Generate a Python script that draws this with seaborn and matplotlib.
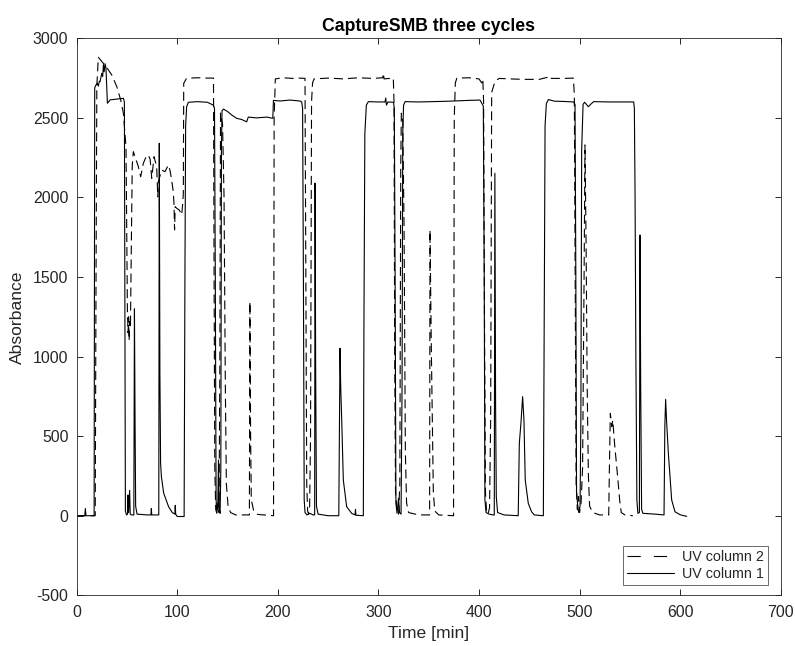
import matplotlib
matplotlib.use("Agg")
import matplotlib.pyplot as plt
from matplotlib.lines import Line2D
import pandas as pd
import seaborn as sns

# UV trace at the outlet of column 1 (time in min, absorbance)
time_col1 = [0, 8.0, 8.6, 9.2, 17.3, 17.9, 19, 20.4, 21.5, 22.5, 23.2, 24.9, 25.8, 26.6, 27.3,
             28.2, 29.1, 30.5, 33.2, 40, 46.4, 47.4, 48.0, 48.4, 49.5, 50.5, 51.0, 51.6, 52.6,
             53.2, 54.5, 56.8, 57.4, 58.0, 58.6, 60, 70, 73.8, 74.2, 74.6, 81.6, 82.1, 82.7,
             83.4, 84.2, 86.5, 91.4, 95, 97.6, 98.0, 98.4, 100, 106.8, 107.6, 108.3, 109.3,
             111, 120, 130, 135.8, 137, 137.8, 138.6, 139.3, 140.3, 141, 141.6, 142.6, 143.3,
             143.9, 144.5, 146, 150, 154.1, 159.1, 164, 169, 170.6, 179, 189, 195, 195.6, 202,
             212, 222, 223.7, 224.6, 225.4, 226.2, 227, 229, 232, 235, 236.6, 237.0, 237.6,
             238.4, 240, 250, 260.6, 261.8, 262.5, 263.5, 265.1, 268.4, 273.4, 276.7, 277.2,
             277.6, 285, 285.6, 286.5, 288, 290, 300, 306.5, 307.3, 308, 309.5, 315, 315.8,
             316.6, 317.4, 318.5, 320, 321, 322.5, 323.5, 324.2, 325, 326.5, 340, 360, 375,
             390, 401, 403, 404.3, 405.2, 405.9, 407, 410, 414, 415.2, 415.8, 416.5, 417.2,
             418.5, 425, 439, 440.1, 441.7, 443.4, 444.7, 446, 449, 452.3, 455, 464, 464.8,
             465.7, 467, 469, 475, 485, 494, 495.5, 496.3, 497, 498.5, 499.3, 500.5, 501.3,
             502.1, 503.5, 505, 508.8, 511, 514, 530, 545, 553.8, 554.5, 555.2, 556, 557, 558,
             559.5, 560.1, 560.8, 561.7, 563, 575, 584, 584.8, 585.6, 586.5, 588.3, 591.6,
             594.9, 600, 606.5]
uv_col1 = [0, 0, 45, 0, 0, 2690, 2705, 2718, 2700, 2730, 2728, 2780, 2760, 2835, 2790,
           2840, 2812, 2592, 2613, 2618, 2623, 2600, 1200, 30, 5, 10, 130, 20, 160,
           10, 5, 5, 1300, 600, 60, 10, 5, 5, 45, 5, 5, 2341, 900,
           330, 245, 141, 56, 20, 10, 65, 10, -5, -5, 1500, 2450, 2570,
           2598, 2602, 2598, 2580, 2560, 1500, 100, 20, 60, 350, 40, 15, 300,
           2300, 2545, 2555, 2540, 2518, 2497, 2490, 2475, 2505, 2500, 2505, 2497, 2610, 2606,
           2612, 2606, 2600, 2560, 1500, 100, 20, 5, 15, 5, 5, 2090, 900,
           60, 10, 0, 0, 1052, 811, 601, 224, 57, 15, 5, 40,
           3, 0, 1200, 2400, 2580, 2602, 2600, 2600, 2625, 2580, 2600, 2598, 2560,
           1500, 80, 15, 110, 20, 10, 800, 2400, 2580, 2602, 2600, 2603, 2606,
           2610, 2612, 2590, 2575, 1500, 100, 20, 10, 5, 5, 2152, 700, 120,
           20, 5, 0, 455, 580, 748, 602, 224, 78, 25, 5, 0, 1200,
           2450, 2590, 2615, 2605, 2603, 2600, 2585, 1500, 150, 40, 20, 60, 600,
           2300, 2585, 2598, 2570, 2585, 2602, 2600, 2600, 2600, 2560, 2000, 1000, 100, 15,
           20, 1764, 800, 40, 15, 10, 5, 560, 731, 600, 392, 99,
           25, 6, -4]

# UV trace at the outlet of column 2 (time in min, absorbance)
time_col2 = [0, 18.4, 19.2, 20.0, 21.5, 23.2, 26.5, 30, 34.8, 39.8, 43.7, 46.4, 48, 49, 49.6,
             50.4, 51, 51.6, 52.1, 52.7, 53.4, 54.3, 55.2, 56.3, 58, 61.3, 63.6, 66.2, 69,
             71.2, 73, 74.6, 76.9, 79.5, 80.6, 81.2, 84.5, 87.8, 91.1, 92.7, 94.4, 96, 96.7,
             97.3, 97.9, 99.4, 102, 104.4, 105.4, 106, 106.4, 109.3, 120, 130, 136, 136.6,
             137.3, 138.2, 139.5, 140.5, 141.5, 142.3, 143, 145, 146.5, 147.8, 148.8, 150.5,
             153, 158, 171.7, 172.2, 172.9, 173.6, 176, 180, 195.7, 196.3, 197.5, 205, 215,
             222, 227, 227.8, 228.7, 229.6, 230.6, 231.6, 232.5, 233.5, 234.5, 236, 250, 265,
             280, 295, 304.3, 304.9, 305.6, 314.8, 315.5, 316.2, 317, 318.5, 320, 321.3,
             322.2, 322.8, 324.2, 325.5, 326.8, 328, 330, 340, 350.9, 351.3, 352.5, 354.6,
             356, 360, 374.7, 375.4, 376.5, 378, 390, 400, 402.7, 403.8, 404.6, 405.5, 406.4,
             407.5, 409, 410.5, 411.6, 412.6, 416, 420, 430, 445, 460, 468, 470, 472, 485,
             493.8, 494.8, 495.8, 496.6, 497.8, 499, 500, 501.5, 503, 504.5, 505.4, 506.5,
             507.6, 508.8, 510, 513, 520, 529, 529.8, 530.6, 531.4, 532, 533, 535, 537.5,
             540, 541.5, 545, 553]
uv_col2 = [0, 0, 1500, 2700, 2881, 2868, 2843, 2815, 2770, 2697, 2613, 2529, 2403, 2319, 1900,
           1300, 1150, 1250, 1100, 1220, 1180, 1700, 2200, 2288, 2256, 2193, 2130, 2214, 2256,
           2267, 2240, 2120, 2256, 2193, 2004, 2100, 2172, 2162, 2204, 2172, 2110, 2036, 1963,
           1796, 1942, 1932, 1921, 1890, 1963, 2025, 2717, 2749, 2752, 2750, 2750, 1500,
           300, 40, 10, 80, 20, 900, 2530, 2460, 2000, 800, 200, 60,
           20, 5, 5, 1345, 500, 100, 30, 8, 0, 2500, 2745, 2752, 2748,
           2750, 2748, 1500, 200, 30, 10, 60, 500, 2600, 2720, 2745, 2750, 2745,
           2752, 2748, 2752, 2781, 2745, 2750, 2600, 1000, 150, 20, 10, 200,
           2200, 2529, 2480, 1800, 400, 80, 20, 5, 5, 1796, 1100, 150,
           30, 5, 0, 2500, 2720, 2750, 2752, 2745, 2720, 2745, 2600, 1200, 150,
           30, 10, 50, 600, 2660, 2730, 2748, 2745, 2742, 2742, 2755, 2764, 2748, 2748,
           2750, 2650, 1200, 200, 40, 120, 20, 80, 300, 1500, 2330, 1700,
           800, 250, 60, 20, 5, 5, 350, 643, 600, 560, 600, 440, 270,
           90, 20, 5, 0]

series_labels = ["UV column 2", "UV column 1"]
x_ticks = [0, 100, 200, 300, 400, 500, 600, 700]
y_ticks = [-500, 0, 500, 1000, 1500, 2000, 2500, 3000]

axis_grey = "#262626"
dash_plot = (6.5, 3.6)
dash_legend = (9.5, 9.5)

sns.set_theme(style="ticks")
plt.rcParams.update({
    "font.family": ["Liberation Sans", "DejaVu Sans"],
    "lines.scale_dashes": False,
    "axes.unicode_minus": False,
    "xtick.direction": "in",
    "ytick.direction": "in",
    "xtick.top": True,
    "xtick.bottom": True,
    "ytick.left": True,
    "ytick.right": True,
    "xtick.major.size": 4.5,
    "ytick.major.size": 4.5,
    "xtick.major.width": 0.7,
    "ytick.major.width": 0.7,
    "xtick.color": axis_grey,
    "ytick.color": axis_grey,
    "xtick.major.pad": 7,
    "ytick.major.pad": 6,
})

df_col1 = pd.DataFrame({"Time [min]": time_col1, "Absorbance": uv_col1})
df_col2 = pd.DataFrame({"Time [min]": time_col2, "Absorbance": uv_col2})

fig = plt.figure(figsize=(7.95, 6.46), dpi=100)
ax = fig.add_axes([0.0965, 0.0785, 0.8855, 0.8622])

sns.lineplot(data=df_col2, x="Time [min]", y="Absorbance", ax=ax, color="black",
             linewidth=0.8, estimator=None, sort=False)
ax.lines[-1].set_dashes(dash_plot)
sns.lineplot(data=df_col1, x="Time [min]", y="Absorbance", ax=ax, color="black",
             linewidth=0.8, estimator=None, sort=False)

ax.set_xlim(0, 700)
ax.set_ylim(-500, 3000)
ax.set_xticks(x_ticks)
ax.set_yticks(y_ticks)
ax.tick_params(which="major", direction="in", length=4.5, width=0.7, bottom=True,
               left=True, top=True, right=True, colors=axis_grey, labelsize=11.4)
for spine in ax.spines.values():
    spine.set_visible(True)
    spine.set_color(axis_grey)
    spine.set_linewidth(0.6)

ax.set_xlabel("Time [min]", fontsize=12.6, color=axis_grey, labelpad=4)
ax.set_ylabel("Absorbance", fontsize=12.6, color=axis_grey, labelpad=6)
ax.set_title("CaptureSMB three cycles", fontsize=12.7, fontweight="bold", pad=5,
             color="black")

handles = [Line2D([], [], color="black", linewidth=0.8, dashes=dash_legend),
           Line2D([], [], color="black", linewidth=0.8)]
leg = ax.legend(handles, series_labels, loc="lower right", bbox_to_anchor=(0.982, 0.0185),
                borderaxespad=0, frameon=True, fancybox=False, fontsize=10.3,
                handlelength=3.26, handletextpad=0.54, borderpad=0.3, labelspacing=0.2)
leg.get_frame().set_edgecolor(axis_grey)
leg.get_frame().set_linewidth(0.6)
for txt in leg.get_texts():
    txt.set_color(axis_grey)

fig.savefig("out.png", dpi=100)
